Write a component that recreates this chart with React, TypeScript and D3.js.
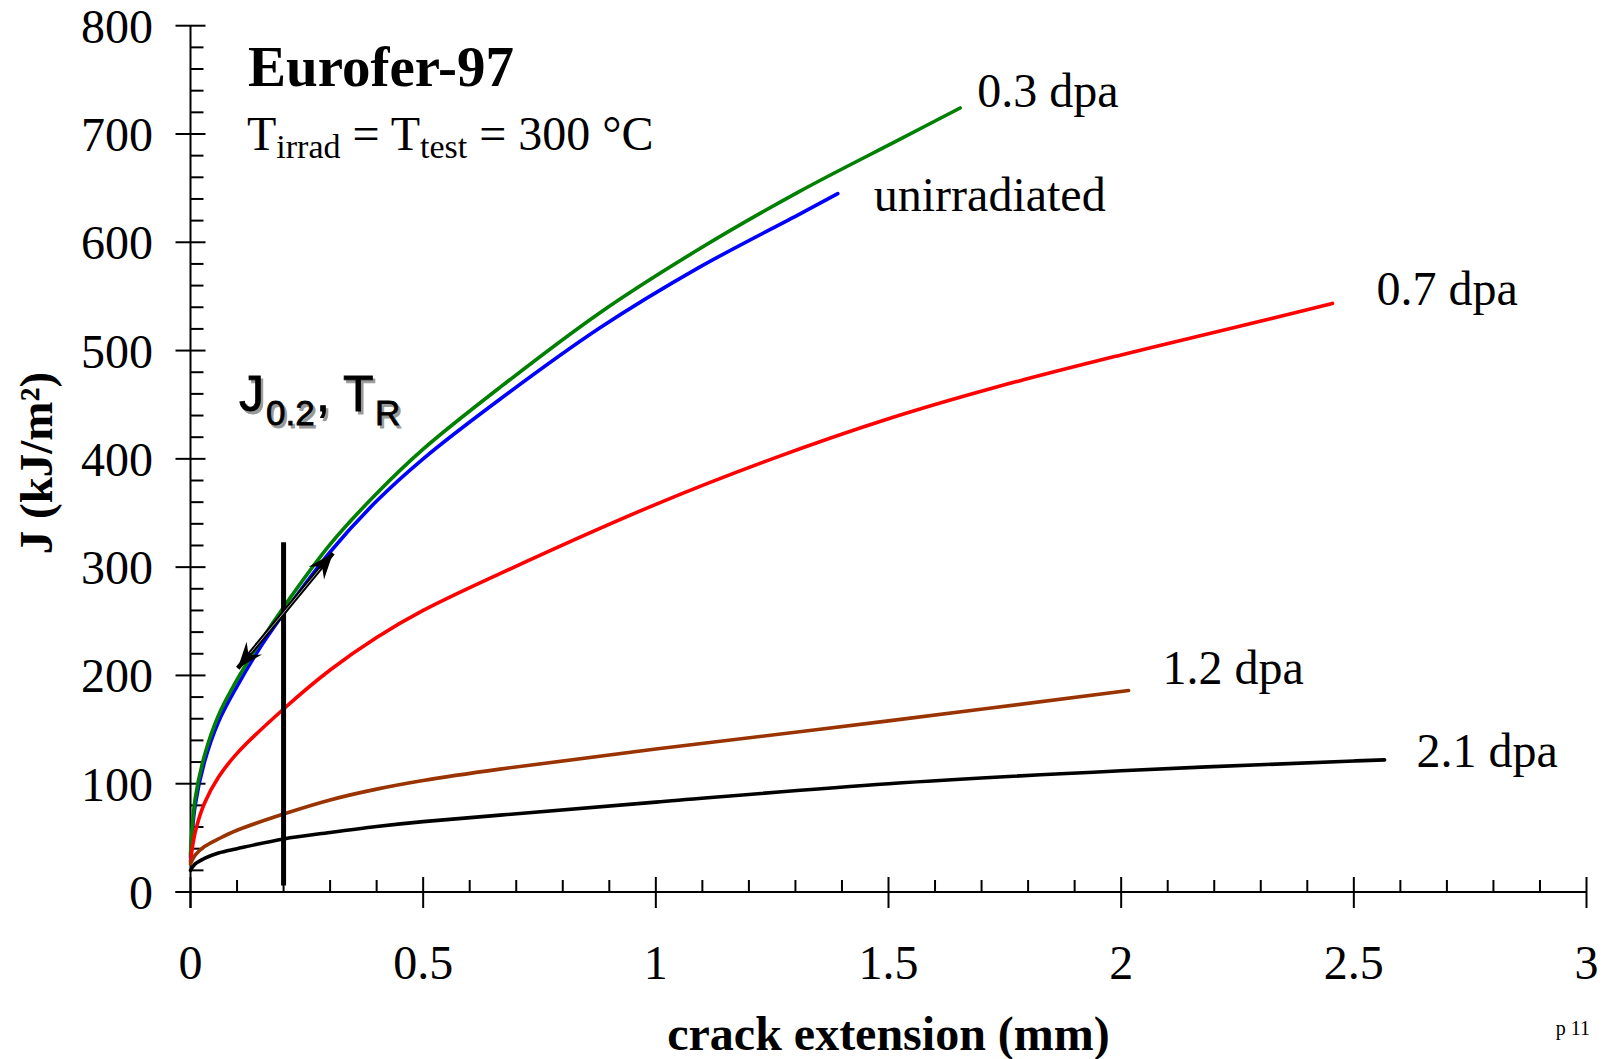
import React from "react";
import * as d3 from "d3";

const W = 1606;
const H = 1059;

// J-R curves, [crack extension (mm), J (kJ/m²)]
const unirradiated = [
  [0, 32], [0.01, 80], [0.03, 120], [0.06, 157], [0.1, 190], [0.15, 226], [0.2, 257],
  [0.3, 314], [0.4, 361], [0.5, 400], [0.665, 455], [0.88, 521], [1.094, 577],
  [1.309, 626], [1.391, 645],
];
const dpa03 = [
  [0, 35], [0.01, 86], [0.03, 126], [0.06, 163], [0.1, 196], [0.15, 231], [0.2, 263],
  [0.3, 321], [0.4, 368], [0.5, 409], [0.665, 466], [0.88, 535], [1.094, 594],
  [1.309, 647], [1.524, 695], [1.654, 724],
];
const dpa07 = [
  [0, 28], [0.01, 55], [0.03, 82], [0.06, 106], [0.1, 128], [0.2, 169], [0.3, 205],
  [0.4, 235], [0.5, 260], [0.665, 294], [1.0, 358], [1.25, 400], [1.5, 437],
  [1.738, 467], [2.0, 496], [2.25, 522], [2.454, 543.5],
];
const dpa12 = [
  [0, 26], [0.01, 34], [0.03, 42], [0.06, 49], [0.1, 57], [0.2, 72], [0.3, 85],
  [0.4, 95], [0.5, 103], [0.665, 113.5], [1.0, 132], [1.5, 158], [2.016, 186],
];
const dpa21 = [
  [0, 20], [0.01, 26], [0.03, 31], [0.06, 36], [0.1, 40], [0.2, 49], [0.3, 55],
  [0.4, 60.5], [0.5, 65], [0.665, 71], [1.0, 83], [1.5, 100], [2.0, 112],
  [2.5, 121], [2.566, 122],
];

const seriesNames = ["unirradiated", "0.3 dpa", "0.7 dpa", "1.2 dpa", "2.1 dpa"];
const seriesData = [unirradiated, dpa03, dpa07, dpa12, dpa21];
const seriesColors = ["#0000ff", "#008000", "#ff0000", "#993300", "#000000"];
// label offset from the curve end, in px
const labelOffsets = [[36, 17], [17, -1], [44, 2], [34, -7], [32, 7]];

const xMajor = [0, 0.5, 1, 1.5, 2, 2.5, 3];
const yMajor = [0, 100, 200, 300, 400, 500, 600, 700, 800];

// J0.2 construction: vertical line at 0.2 mm and tangent arrow
const j02Line = [[0.2, 6], [0.2, 323]];
const tangentArrow = [[0.1015, 206.6], [0.306, 312.9]];

const serif = "'Liberation Serif', 'Times New Roman', serif";
const sans = "'Liberation Sans', Arial, sans-serif";

export default function App() {
  const x = d3.scaleLinear().domain([0, 3]).range([190.5, 1586.5]);
  const y = d3.scaleLinear().domain([0, 800]).range([892, 25.7]);

  const line = d3
    .line<number[]>()
    .x((d) => x(d[0]))
    .y((d) => y(d[1]))
    .curve(d3.curveCatmullRom.alpha(0.5));

  const xMinor = d3.range(0, 3.0001, 0.1).filter((v) => Math.abs(v * 2 - Math.round(v * 2)) > 1e-6);
  const yMinor = d3.range(0, 800.001, 20).filter((v) => v % 100 !== 0);

  const x0 = x(0);
  const y0 = y(0);

  const ax1 = x(tangentArrow[0][0]);
  const ay1 = y(tangentArrow[0][1]);
  const ax2 = x(tangentArrow[1][0]);
  const ay2 = y(tangentArrow[1][1]);
  const alen = Math.hypot(ax2 - ax1, ay2 - ay1);
  const ux = (ax2 - ax1) / alen;
  const uy = (ay2 - ay1) / alen;

  return (
    <svg
      width={W}
      height={H}
      style={{ position: "absolute", left: 0, top: 0, background: "#fff" }}
    >
      <defs>
        <marker
          id="head"
          viewBox="-28 -12 30 24"
          markerWidth={30}
          markerHeight={24}
          refX={0}
          refY={0}
          markerUnits="userSpaceOnUse"
          orient="auto-start-reverse"
        >
          <path d="M0,0 L-26,-10 L-17,0 L-26,10 Z" fill="#000" />
        </marker>
      </defs>

      {/* axes */}
      <g stroke="#000" strokeWidth={2} fill="none">
        <line x1={x0} x2={x0} y1={y(800)} y2={y0 + 16} />
        <line x1={x0 - 15} x2={x(3)} y1={y0} y2={y0} />
        {yMajor.map((v) => (
          <line key={"ym" + v} x1={x0 - 15} x2={x0 + 15} y1={y(v)} y2={y(v)} />
        ))}
        {yMinor.map((v) => (
          <line key={"yn" + v} x1={x0} x2={x0 + 13} y1={y(v)} y2={y(v)} />
        ))}
        {xMajor.map((v) => (
          <line key={"xm" + v} x1={x(v)} x2={x(v)} y1={y0 - 15} y2={y0 + 16} />
        ))}
        {xMinor.map((v) => (
          <line key={"xn" + v} x1={x(v)} x2={x(v)} y1={y0 - 12} y2={y0} />
        ))}
      </g>

      {/* tick labels */}
      <g fontFamily={serif} fontSize={48} fill="#000">
        {yMajor.map((v) => (
          <text key={"yl" + v} x={153} y={y(v) + 17} textAnchor="end">
            {v}
          </text>
        ))}
        {xMajor.map((v) => (
          <text key={"xl" + v} x={x(v)} y={979} textAnchor="middle">
            {v}
          </text>
        ))}
      </g>

      {/* axis titles */}
      <text
        transform="translate(52,463) rotate(-90)"
        textAnchor="middle"
        fontFamily={serif}
        fontWeight="bold"
        fontSize={47}
      >
        J (kJ/m²)
      </text>
      <text
        x={(x(0) + x(3)) / 2}
        y={1050}
        textAnchor="middle"
        fontFamily={serif}
        fontWeight="bold"
        fontSize={48}
      >
        crack extension (mm)
      </text>

      {/* curves */}
      {seriesData.map((d, i) => (
        <path
          key={seriesNames[i]}
          d={line(d) || ""}
          fill="none"
          stroke={seriesColors[i]}
          strokeWidth={3.6}
          strokeLinecap="round"
        />
      ))}

      {/* curve labels */}
      <g fontFamily={serif} fontSize={48} fill="#000">
        {seriesData.map((d, i) => {
          const last = d[d.length - 1];
          return (
            <text
              key={"lab" + i}
              x={x(last[0]) + labelOffsets[i][0]}
              y={y(last[1]) + labelOffsets[i][1]}
            >
              {seriesNames[i]}
            </text>
          );
        })}
      </g>

      {/* J0.2 construction */}
      <line
        x1={x(j02Line[0][0])}
        x2={x(j02Line[1][0])}
        y1={y(j02Line[0][1])}
        y2={y(j02Line[1][1])}
        stroke="#000"
        strokeWidth={5}
      />
      <line
        x1={ax1}
        y1={ay1}
        x2={ax2}
        y2={ay2}
        stroke="#000"
        strokeWidth={4.5}
        markerStart="url(#head)"
        markerEnd="url(#head)"
      />
      <line
        x1={ax1 + ux * 20}
        y1={ay1 + uy * 20}
        x2={ax2 - ux * 20}
        y2={ay2 - uy * 20}
        stroke="#aaa"
        strokeWidth={1}
      />

      {/* J0.2, TR label with shadow */}
      {[
        { dx: 2.5, dy: 2.5, fill: "#999" },
        { dx: 0, dy: 0, fill: "#000" },
      ].map((s, k) => (
        <g
          key={"j" + k}
          fontFamily={sans}
          fontSize={50}
          fill={s.fill}
          stroke={s.fill}
          strokeWidth={0.8}
          transform={`translate(${s.dx},${s.dy})`}
        >
          <text x={239} y={411}>J</text>
          <text x={266} y={425} fontSize={35}>0.2</text>
          <text x={316} y={411}>,</text>
          <text x={343} y={411}>T</text>
          <text x={375} y={425} fontSize={35}>R</text>
        </g>
      ))}

      {/* title */}
      <text x={248} y={86} fontFamily={serif} fontWeight="bold" fontSize={57}>
        Eurofer-97
      </text>
      <text x={247} y={150} fontFamily={serif} fontSize={48}>
        T<tspan fontSize={34} dy={8}>irrad</tspan>
        <tspan dy={-8}> = T</tspan>
        <tspan fontSize={34} dy={8}>test</tspan>
        <tspan dy={-8}> = 300 °C</tspan>
      </text>

      <text x={1590} y={1035} textAnchor="end" fontFamily={serif} fontSize={20}>
        p 11
      </text>
    </svg>
  );
}
